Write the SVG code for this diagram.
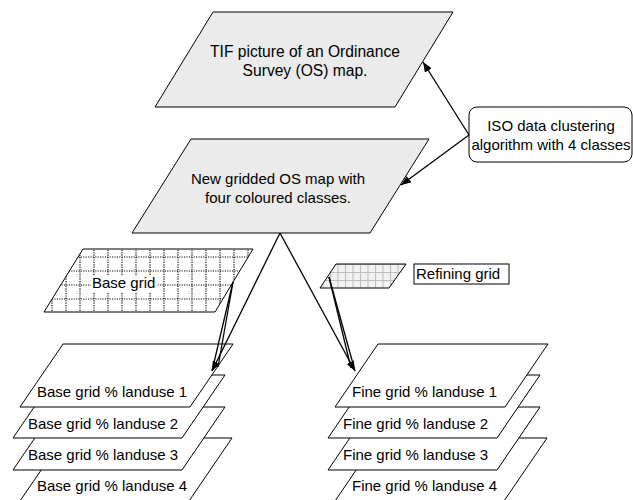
<svg xmlns="http://www.w3.org/2000/svg" width="633" height="500" viewBox="0 0 633 500">
<defs>
<style>
.t{font-family:"Liberation Sans",Arial,sans-serif;font-size:15px;fill:#000}
.c{text-anchor:middle}
.big{font-size:15.6px}
.shape{stroke:#000;stroke-width:1}
.grey{fill:#ebebeb}
.white{fill:#fff}
.ln{stroke:#000;stroke-width:1.3;fill:none}
.dot{stroke:#111;stroke-width:1.2;stroke-dasharray:1.2 1.2;fill:none}
</style>
<marker id="ah" viewBox="0 0 10 8" refX="10" refY="4" markerWidth="10" markerHeight="8" markerUnits="userSpaceOnUse" orient="auto">
<path d="M0,0 L10,4 L0,8 z" fill="#000"/>
</marker>
<pattern id="fine" x="0" y="0" width="7.5" height="8" patternUnits="userSpaceOnUse">
<rect width="7.5" height="8" fill="#f2f2f2"/>
<path d="M0,0 V8 M0,0 H7.5" stroke="#bdbdbd" stroke-width="2"/>
</pattern>
<clipPath id="bgclip"><polygon points="83,249 253,249 215,312 44,312"/></clipPath>
</defs>
<rect width="633" height="500" fill="#fff"/>

<g id="tif">
<polygon class="shape grey" points="213,12 453,12 395,107 155,107"/>
<text class="t c big" x="305" y="57">TIF picture of an Ordinance</text>
<text class="t c big" x="305" y="76">Survey (OS) map.</text>
</g>

<g id="gridded">
<polygon class="shape grey" points="191,139 429,139 370,233 132,233"/>
<text class="t c" x="278" y="184">New gridded OS map with</text>
<text class="t c" x="278" y="203">four coloured classes.</text>
</g>

<g id="iso">
<rect class="shape white" x="469" y="107" width="163" height="55" rx="8"/>
<text class="t c" x="551" y="131">ISO data clustering</text>
<text class="t c" x="551" y="150">algorithm with 4 classes</text>
</g>

<g id="basegrid">
<polygon fill="#fff" points="83,249 253,249 215,312 44,312"/>
<g clip-path="url(#bgclip)">
<path class="dot" d="M40,257 H260 M40,271 H260 M40,285 H260 M40,299 H260 M52,245 V315 M66,245 V315 M80,245 V315 M94,245 V315 M108,245 V315 M122,245 V315 M136,245 V315 M150,245 V315 M164,245 V315 M178,245 V315 M192,245 V315 M206,245 V315 M220,245 V315 M234,245 V315 M248,245 V315"/>
</g>
<polygon class="shape" fill="none" points="83,249 253,249 215,312 44,312"/>
<rect x="91" y="276" width="66" height="17" fill="#fff"/>
<text class="t" x="92" y="288">Base grid</text>
</g>

<g id="refining">
<polygon class="shape" fill="url(#fine)" points="336,264 406,264 389,288 320,288"/>
<rect class="shape white" x="414" y="264" width="95" height="20"/>
<text class="t" x="416" y="279">Refining grid</text>
</g>

<g id="base-layers">
<g id="base4"><polygon class="shape white" points="63,438 232,438 189,501 20,501"/><text class="t" x="37" y="491">Base grid % landuse 4</text></g>
<g id="base3"><polygon class="shape white" points="56,407 225,407 182,470 13,470"/><text class="t" x="28" y="460">Base grid % landuse 3</text></g>
<g id="base2"><polygon class="shape white" points="56,375 225,375 182,438 13,438"/><text class="t" x="28" y="429">Base grid % landuse 2</text></g>
<g id="base1"><polygon class="shape white" points="63,344 233,344 190,407 20,407"/><text class="t" x="37" y="397">Base grid % landuse 1</text></g>
</g>

<g id="fine-layers">
<g id="fine4"><polygon class="shape white" points="378,438 547,438 504,501 335,501"/><text class="t" x="352" y="491">Fine grid % landuse 4</text></g>
<g id="fine3"><polygon class="shape white" points="371,407 540,407 497,470 328,470"/><text class="t" x="343" y="460">Fine grid % landuse 3</text></g>
<g id="fine2"><polygon class="shape white" points="371,375 540,375 497,438 328,438"/><text class="t" x="343" y="429">Fine grid % landuse 2</text></g>
<g id="fine1"><polygon class="shape white" points="378,344 548,344 505,407 335,407"/><text class="t" x="352" y="397">Fine grid % landuse 1</text></g>
</g>

<g id="connectors">
<line class="ln" x1="469" y1="135" x2="423" y2="62" marker-end="url(#ah)"/>
<line class="ln" x1="469" y1="135" x2="401" y2="185" marker-end="url(#ah)"/>
<line class="ln" x1="280" y1="233" x2="212" y2="371" marker-end="url(#ah)"/>
<line class="ln" x1="280" y1="233" x2="355" y2="371" marker-end="url(#ah)"/>
<line class="ln" x1="233" y1="282" x2="212" y2="371"/>
<line class="ln" x1="233" y1="282" x2="218" y2="367"/>
<line class="ln" x1="329" y1="277" x2="355" y2="371"/>
<line class="ln" x1="329" y1="277" x2="351" y2="368"/>
</g>
</svg>
